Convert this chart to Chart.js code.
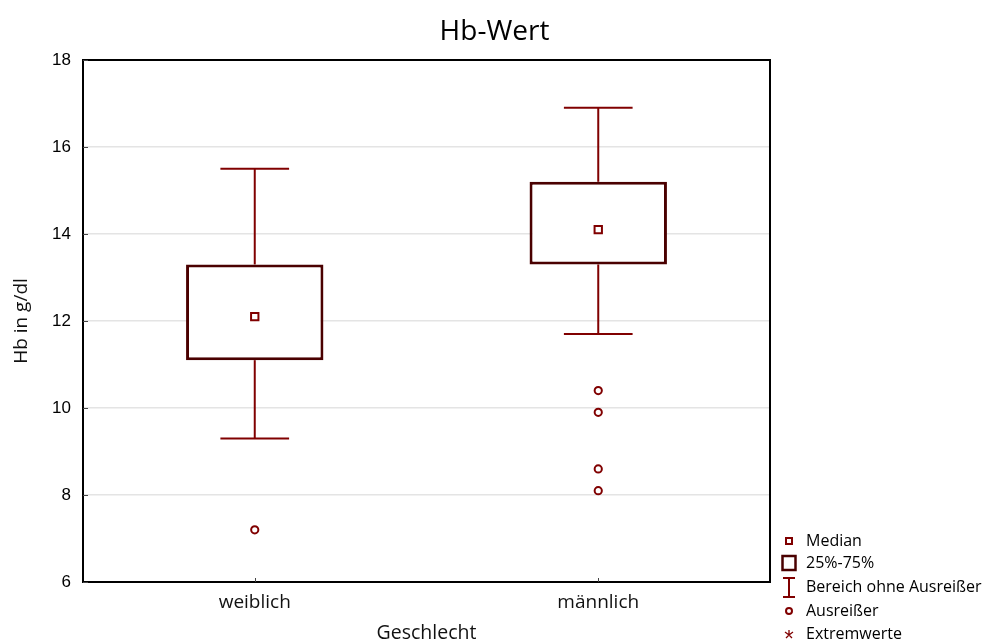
<!DOCTYPE html>
<html>
<head>
<meta charset="utf-8">
<script src="https://cdn.jsdelivr.net/npm/chart.js@4"></script>
<style>
  html, body { margin: 0; padding: 0; background: #fff; }
  #wrap { width: 989px; height: 644px; }
</style>
</head>
<body>
<div id="wrap"><canvas id="c"></canvas></div>
<script>
// Hb values (g/dl) by sex: box-and-whisker summary
const groups = ['weiblich', 'männlich'];
const q1 = [11.1, 13.3];
const q3 = [13.3, 15.2];
const medians = [12.1, 14.1];
const whiskerLow = [9.3, 11.7];
const whiskerHigh = [15.5, 16.9];
const outliers = [[7.2], [10.4, 9.9, 8.6, 8.1]];
const extremes = [[], []];
const yTicks = [6, 8, 10, 12, 14, 16, 18];
const legendLabels = ['Median', '25%-75%', 'Bereich ohne Ausreißer', 'Ausreißer', 'Extremwerte'];

const RED = '#800000';
const BOX = '#4a0000';
const TEXT_FONT = '"Open Sans", Lato, sans-serif';

const toPoints = lists => lists.flatMap((vals, i) => vals.map(v => ({ x: groups[i], y: v })));

// Whiskers with end caps, drawn beneath the boxes
const whiskerPlugin = {
  id: 'whiskers',
  beforeDatasetsDraw(chart) {
    const { ctx, scales: { x, y } } = chart;
    const catW = x.width / groups.length;
    ctx.save();
    ctx.strokeStyle = RED;
    ctx.lineWidth = 2;
    groups.forEach((g, i) => {
      const px = x.getPixelForValue(i);
      const half = catW * 0.1;
      [[q3[i], whiskerHigh[i]], [q1[i], whiskerLow[i]]].forEach(([from, to]) => {
        ctx.beginPath();
        ctx.moveTo(px, y.getPixelForValue(from));
        ctx.lineTo(px, y.getPixelForValue(to));
        ctx.stroke();
        ctx.beginPath();
        ctx.moveTo(px - half, y.getPixelForValue(to));
        ctx.lineTo(px + half, y.getPixelForValue(to));
        ctx.stroke();
      });
    });
    ctx.restore();
  }
};

// Plot frame, inner tick marks and the symbol legend
const framePlugin = {
  id: 'frame',
  afterDraw(chart) {
    const { ctx, chartArea: a, scales: { x, y } } = chart;
    ctx.save();
    ctx.strokeStyle = '#000';
    ctx.lineWidth = 2;
    ctx.strokeRect(a.left, a.top, a.right - a.left, a.bottom - a.top);
    ctx.lineWidth = 1;
    ctx.strokeStyle = '#444';
    yTicks.forEach(t => {
      const py = Math.round(y.getPixelForValue(t)) + 0.5;
      ctx.beginPath();
      ctx.moveTo(a.left, py);
      ctx.lineTo(a.left + 5, py);
      ctx.stroke();
    });
    groups.forEach((g, i) => {
      const px = Math.round(x.getPixelForValue(i)) + 0.5;
      ctx.beginPath();
      ctx.moveTo(px, a.bottom);
      ctx.lineTo(px, a.bottom - 4);
      ctx.stroke();
    });

    // legend
    const lx = a.right + 19;
    const tx = a.right + 36;
    const rows = [541, 563, 587, 611, 634];
    ctx.font = '16px ' + TEXT_FONT;
    ctx.fillStyle = '#000';
    ctx.textBaseline = 'middle';
    ctx.textAlign = 'left';
    legendLabels.forEach((lab, i) => ctx.fillText(lab, tx, rows[i]));

    ctx.strokeStyle = RED;
    ctx.lineWidth = 2;
    ctx.strokeRect(lx - 3, rows[0] - 3, 6, 6);

    ctx.strokeStyle = BOX;
    ctx.lineWidth = 2.5;
    ctx.strokeRect(lx - 6.5, rows[1] - 7, 13, 14);

    ctx.strokeStyle = RED;
    ctx.lineWidth = 2;
    ctx.beginPath();
    ctx.moveTo(lx - 6, rows[2] - 9); ctx.lineTo(lx + 6, rows[2] - 9);
    ctx.moveTo(lx, rows[2] - 9); ctx.lineTo(lx, rows[2] + 10);
    ctx.moveTo(lx - 6, rows[2] + 10); ctx.lineTo(lx + 6, rows[2] + 10);
    ctx.stroke();

    ctx.beginPath();
    ctx.arc(lx, rows[3], 3, 0, Math.PI * 2);
    ctx.stroke();

    ctx.lineWidth = 1.3;
    ctx.beginPath();
    ctx.moveTo(lx, rows[4] - 4); ctx.lineTo(lx, rows[4] + 1);
    ctx.moveTo(lx - 4, rows[4] - 2); ctx.lineTo(lx, rows[4] + 1); ctx.lineTo(lx + 4, rows[4] - 2);
    ctx.moveTo(lx, rows[4] + 1); ctx.lineTo(lx - 3, rows[4] + 4);
    ctx.moveTo(lx, rows[4] + 1); ctx.lineTo(lx + 3, rows[4] + 4);
    ctx.stroke();
    ctx.restore();
  }
};

new Chart(document.getElementById('c'), {
  type: 'bar',
  data: {
    labels: groups,
    datasets: [
      {
        type: 'bar',
        label: legendLabels[1],
        data: groups.map((g, i) => [q1[i], q3[i]]),
        backgroundColor: '#ffffff',
        borderColor: BOX,
        borderWidth: 3,
        borderSkipped: false,
        barPercentage: 0.4,
        categoryPercentage: 1,
        order: 3
      },
      {
        type: 'line',
        label: legendLabels[0],
        data: medians,
        showLine: false,
        pointStyle: 'rect',
        pointRadius: 5.2,
        pointBorderWidth: 2,
        pointBorderColor: RED,
        pointBackgroundColor: '#ffffff',
        order: 1
      },
      {
        type: 'line',
        label: legendLabels[3],
        data: toPoints(outliers),
        showLine: false,
        pointStyle: 'circle',
        pointRadius: 3.6,
        pointBorderWidth: 2,
        pointBorderColor: RED,
        pointBackgroundColor: '#ffffff',
        order: 1
      },
      {
        type: 'line',
        label: legendLabels[4],
        data: toPoints(extremes),
        showLine: false,
        pointStyle: 'star',
        pointRadius: 4,
        pointBorderColor: RED,
        order: 1
      }
    ]
  },
  options: {
    responsive: true,
    maintainAspectRatio: false,
    animation: false,
    events: [],
    layout: { padding: 0 },
    plugins: {
      legend: { display: false },
      tooltip: { enabled: false },
      title: {
        display: true,
        text: 'Hb-Wert',
        color: '#000',
        font: { family: TEXT_FONT, size: 28, weight: 'normal', lineHeight: 1.2 },
        padding: { top: 15, bottom: 11.4 }
      }
    },
    scales: {
      x: {
        type: 'category',
        offset: true,
        grid: { display: false, drawTicks: false },
        border: { display: false },
        ticks: { color: '#111', font: { family: TEXT_FONT, size: 19 }, padding: 9 },
        title: {
          display: true,
          text: 'Geschlecht',
          color: '#111',
          font: { family: TEXT_FONT, size: 19.5, lineHeight: 1.2 },
          padding: { top: 0, bottom: -1 }
        },
        afterFit(scale) { scale.height = 62; }
      },
      y: {
        min: 6,
        max: 18,
        afterBuildTicks(scale) { scale.ticks = yTicks.map(v => ({ value: v })); },
        grid: { color: '#e4e4e4', lineWidth: 1.5, drawTicks: false },
        border: { display: false },
        ticks: { color: '#000', font: { family: '"Liberation Sans", Arial, sans-serif', size: 17 }, padding: 12 },
        title: {
          display: true,
          text: 'Hb in g/dl',
          color: '#111',
          font: { family: TEXT_FONT, size: 19, lineHeight: 1.2 },
          padding: { top: 10, bottom: 0 }
        },
        afterFit(scale) { scale.width = 83; }
      },
      // empty right-hand band that holds the symbol legend
      legendBand: {
        type: 'linear',
        position: 'right',
        display: true,
        grid: { display: false, drawTicks: false },
        border: { display: false },
        ticks: { display: false },
        afterFit(scale) { scale.width = 219; }
      }
    }
  },
  plugins: [whiskerPlugin, framePlugin]
});
</script>
</body>
</html>
